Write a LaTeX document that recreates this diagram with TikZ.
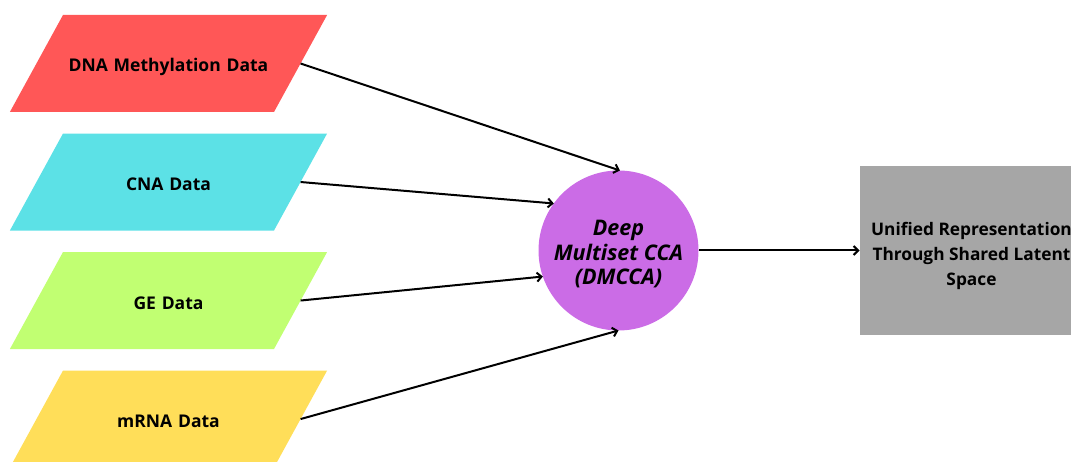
\documentclass[tikz,border=0pt]{standalone}
\usepackage{fontspec}
\setmainfont{Open Sans}
\usetikzlibrary{arrows.meta}
\usetikzlibrary{shapes.geometric}
\usetikzlibrary{positioning}

\definecolor{dnared}{HTML}{FF5757}
\definecolor{cnacyan}{HTML}{5CE1E6}
\definecolor{gegreen}{HTML}{C1FF72}
\definecolor{mrnayellow}{HTML}{FFDE59}
\definecolor{dmccapurple}{HTML}{CB6CE6}
\definecolor{latentgray}{HTML}{A6A6A6}

\begin{document}
\begin{tikzpicture}[x=1pt,y=1pt,node distance=21.5pt,
        >={Straight Barb[length=4.5pt,width=9pt]},
        data/.style={trapezium,trapezium left angle=61.3,trapezium right angle=118.7,
            text width=211pt,align=center,text height=57pt,text depth=40pt,
            inner sep=0pt,outer sep=0pt,font=\bfseries\fontsize{17.5}{21}\selectfont},
        link/.style={->,line width=2pt}]
        \useasboundingbox (0,0) rectangle (1071,462);
        \node [data,fill=dnared] (dna) at (168.5,398.5) {DNA Methylation Data};
        \node [data,fill=cnacyan] (cna) [below=of dna] {CNA Data};
        \node [data,fill=gegreen] (ge) [below=of cna] {GE Data};
        \node [data,fill=mrnayellow] (mrna) [below=of ge] {mRNA Data};
        \node [circle,fill=dmccapurple,minimum size=160pt,inner sep=0pt,outer sep=0pt,
            label={[align=center,yshift=-4pt,font=\bfseries\itshape\fontsize{21.5}{24.5}\selectfont]center:Deep\\Multiset CCA\\(DMCCA)}]
            (dmcca) at (618.5,211.5) {};
        \node [rectangle,fill=latentgray,minimum width=224pt,minimum height=169pt,outer sep=0pt,
            label={[align=center,yshift=-5pt,font=\bfseries\fontsize{17.3}{25}\selectfont]center:Unified Representation\\Through Shared Latent\\Space}]
            (latent) [right=161pt of dmcca] {};
        \path[link]
            (dna.east) edge (dmcca.89)
            (cna.east) edge (dmcca.144.6)
            (ge.east) edge (dmcca.199.3)
            (mrna.east) edge (dmcca.270)
            (dmcca) edge (latent);
    \end{tikzpicture}
\end{document}
